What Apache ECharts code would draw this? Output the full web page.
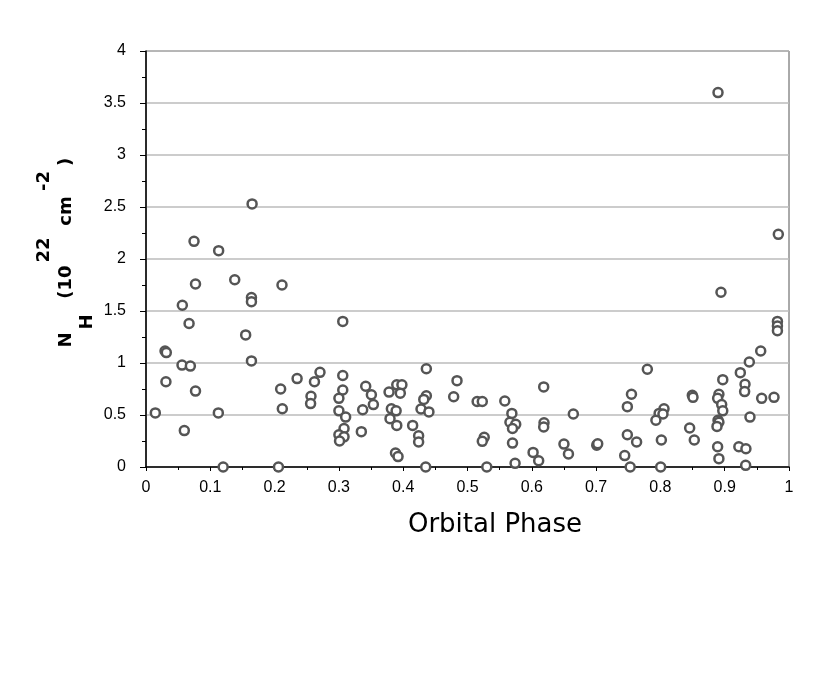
<!DOCTYPE html>
<html>
<head>
<meta charset="utf-8">
<script src="https://cdn.jsdelivr.net/npm/echarts@6/dist/echarts.min.js"></script>
<style>
  html, body { margin: 0; padding: 0; background: #fff; }
  #main { width: 830px; height: 694px; }
</style>
</head>
<body>
<div id="main"></div>
<script>
// orbital phase and column density (10^22 cm^-2)
var phase = [
  0.0145, 0.0296, 0.0316, 0.031, 0.0565, 0.056, 0.0596, 0.067, 0.069, 0.0747,
  0.077, 0.077, 0.113, 0.1125, 0.120, 0.138, 0.155, 0.165, 0.164, 0.164,
  0.164, 0.206, 0.2094, 0.212, 0.2115, 0.235, 0.262, 0.2706, 0.2566, 0.256,
  0.306, 0.306, 0.306, 0.300, 0.300, 0.3105, 0.308, 0.300, 0.308, 0.301,
  0.3417, 0.3505, 0.3536, 0.337, 0.3349, 0.378, 0.390, 0.398, 0.3955, 0.3816,
  0.389, 0.3795, 0.390, 0.388, 0.392, 0.4147, 0.424, 0.424, 0.436, 0.436,
  0.432, 0.4277, 0.440, 0.435, 0.4837, 0.4785, 0.515, 0.523, 0.526, 0.523,
  0.530, 0.558, 0.569, 0.566, 0.575, 0.570, 0.570, 0.574, 0.6185, 0.619,
  0.6185, 0.602, 0.6107, 0.650, 0.657, 0.6646, 0.701, 0.7025, 0.7797, 0.755,
  0.7486, 0.7486, 0.763, 0.7445, 0.753, 0.8056, 0.798, 0.804, 0.793, 0.8015,
  0.8004, 0.8496, 0.8507, 0.8455, 0.8527, 0.891, 0.889, 0.8953, 0.897, 0.897,
  0.8896, 0.891, 0.888, 0.889, 0.891, 0.9243, 0.9383, 0.9316, 0.931, 0.9393,
  0.922, 0.933, 0.9326, 0.956, 0.9575, 0.9767, 0.8896, 0.9834, 0.8942, 0.982,
  0.982, 0.982
];
var nH = [
  0.52, 1.115, 1.10, 0.82, 1.555, 0.98, 0.35, 1.38, 0.97, 2.17,
  1.76, 0.73, 2.08, 0.52, 0, 1.80, 1.27, 2.53, 1.63, 1.59,
  1.02, 0, 0.75, 0.56, 1.75, 0.85, 0.82, 0.91, 0.68, 0.61,
  1.40, 0.88, 0.74, 0.66, 0.54, 0.48, 0.37, 0.31, 0.29, 0.25,
  0.776, 0.695, 0.60, 0.55, 0.34, 0.72, 0.79, 0.79, 0.71, 0.56,
  0.54, 0.465, 0.40, 0.135, 0.10, 0.40, 0.30, 0.24, 0.945, 0.685,
  0.65, 0.558, 0.53, 0, 0.83, 0.676, 0.63, 0.63, 0.285, 0.247,
  0, 0.635, 0.515, 0.43, 0.41, 0.37, 0.23, 0.035, 0.77, 0.426,
  0.385, 0.14, 0.06, 0.22, 0.125, 0.51, 0.21, 0.224, 0.94, 0.70,
  0.58, 0.31, 0.24, 0.11, 0, 0.56, 0.515, 0.51, 0.45, 0.26,
  0, 0.69, 0.67, 0.375, 0.26, 0.70, 0.66, 0.60, 0.54, 0.84,
  0.45, 0.43, 0.39, 0.195, 0.08, 0.907, 1.01, 0.795, 0.725, 0.48,
  0.195, 0.176, 0.016, 1.115, 0.66, 0.67, 3.60, 2.237, 1.68, 1.40,
  1.355, 1.31
];

var points = phase.map(function (p, i) { return [p, nH[i]]; });

var chart = echarts.init(document.getElementById('main'));

// rotated y-axis title pieces: N_H (10^22 cm^-2)
function vtext(str, x, y) {
  return {
    type: 'text', x: x, y: y, rotation: Math.PI / 2,
    style: {
      text: str, fontSize: 18, fontWeight: 'bold', fontFamily: 'DejaVu Sans', fill: '#000',
      align: 'center', verticalAlign: 'middle'
    }
  };
}

chart.setOption({
  animation: false,
  backgroundColor: '#fff',
  grid: {
    left: 146, right: 41, top: 51, bottom: 227,
    show: true, borderColor: '#555', borderWidth: 1, backgroundColor: 'transparent'
  },
  xAxis: {
    type: 'value', min: 0, max: 1, interval: 0.1,
    axisLine: { show: true, onZero: false, lineStyle: { color: '#000', width: 1.5 } },
    axisTick: { show: true, length: 4, lineStyle: { color: '#000' } },
    minorTick: { show: true, splitNumber: 2, length: 3, lineStyle: { color: '#000' } },
    splitLine: { show: false },
    axisLabel: { color: '#000', fontSize: 16, fontFamily: 'Liberation Sans', margin: 13,
      formatter: function (v) { return String(+v.toFixed(1)); } }
  },
  yAxis: {
    type: 'value', min: 0, max: 4, interval: 0.5,
    axisLine: { show: true, onZero: false, lineStyle: { color: '#000', width: 1.5 } },
    axisTick: { show: true, length: 6, lineStyle: { color: '#000' } },
    minorTick: { show: true, splitNumber: 2, length: 4, lineStyle: { color: '#000' } },
    splitLine: { show: true, lineStyle: { color: '#bbb', width: 1.5 } },
    axisLabel: { color: '#000', fontSize: 16, fontFamily: 'Liberation Sans', margin: 20 }
  },
  graphic: [
    vtext('N', 66, 340),
    vtext('H', 87, 322),
    vtext('(10', 66, 282),
    vtext('22', 44, 250),
    vtext('cm', 66, 211),
    vtext('-2', 44, 181),
    vtext(')', 66, 162),
    {
      type: 'text', x: 495, y: 525,
      style: {
        text: 'Orbital Phase', fontSize: 26, fontFamily: 'DejaVu Sans', fill: '#000',
        align: 'center', verticalAlign: 'middle'
      }
    }
  ],
  series: [{
    type: 'scatter',
    data: points,
    symbol: 'circle',
    symbolSize: 9,
    itemStyle: { color: '#fff', borderColor: '#555', borderWidth: 2.5, opacity: 1 }
  }]
});
</script>
</body>
</html>
